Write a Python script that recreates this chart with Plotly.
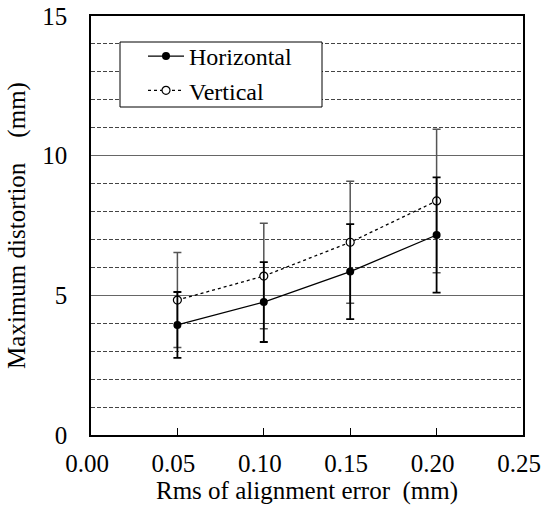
import plotly.graph_objects as go

rms = [0.05, 0.10, 0.15, 0.20]
horizontal = [3.94, 4.76, 5.85, 7.16]
horizontal_err = [1.18, 1.43, 1.70, 2.06]
vertical = [4.83, 5.69, 6.90, 8.38]
vertical_err = [1.70, 1.89, 2.18, 2.57]

x_ticks = [0.00, 0.05, 0.10, 0.15, 0.20, 0.25]
y_ticks = [0, 5, 10, 15]

FONT = "Liberation Serif"
FS = 25

fig = go.Figure()
fig.add_trace(go.Scatter(
    x=rms, y=vertical, name="Vertical", mode="lines+markers",
    line=dict(color="black", width=1.3, dash="dot"),
    marker=dict(symbol="circle", size=8, color="white", line=dict(color="black", width=1.2)),
    error_y=dict(type="data", array=vertical_err, visible=True, color="#555555", thickness=1.5, width=4),
))
fig.add_trace(go.Scatter(
    x=rms, y=horizontal, name="Horizontal", mode="lines+markers",
    line=dict(color="black", width=1.3),
    marker=dict(symbol="circle", size=8, color="black"),
    error_y=dict(type="data", array=horizontal_err, visible=True, color="black", thickness=1.8, width=4),
))

fig.add_shape(type="rect", xref="paper", yref="paper",
              x0=(120 - 91) / 432, x1=(322 - 91) / 432,
              y0=(435 - 107) / 419, y1=(435 - 42) / 419,
              fillcolor="white", line=dict(color="black", width=1), layer="above")

fig.update_layout(
    width=543, height=515,
    margin=dict(l=91, r=20, t=16, b=80, autoexpand=False),
    paper_bgcolor="white", plot_bgcolor="white",
    font=dict(family=FONT, size=FS, color="black"),
    showlegend=True,
    legend=dict(x=(143 - 91) / 432, y=(435 - 34) / 419, xanchor="left", yanchor="top",
                bgcolor="rgba(0,0,0,0)", borderwidth=0, traceorder="reversed",
                itemwidth=36,
                font=dict(family=FONT, size=24), tracegroupgap=0),
)
fig.update_xaxes(
    range=[0, 0.25], tickvals=x_ticks, ticktext=[f"{v:.2f}" for v in x_ticks],
    ticks="inside", ticklen=7, tickwidth=1, tickcolor="black",
    showline=True, linecolor="black", linewidth=1.5, mirror=True,
    showgrid=False, zeroline=False, automargin=False,
    ticklabeloverflow="allow", ticklabelstandoff=5, ticklabelshift=-4,
    title=dict(text="Rms of alignment error\u00a0\u00a0(mm)", standoff=5, font=dict(size=FS)),
)
fig.update_yaxes(
    range=[0, 15], tickvals=y_ticks, ticks="",
    showline=True, linecolor="black", linewidth=1.5, mirror=True,
    showgrid=True, gridcolor="#666666", gridwidth=1, zeroline=False, automargin=False,
    minor=dict(dtick=1, showgrid=True, gridcolor="#444444", griddash="4px,2px", gridwidth=1, ticks=""),
    ticklabeloverflow="allow", ticklabelstandoff=17,
    title=dict(text="Maximum distortion\u00a0\u00a0\u00a0\u00a0(mm)", standoff=10, font=dict(size=FS)),
)

fig.write_html("out.html", config={"displayModeBar": False},
               post_script="document.body.style.margin='0';")
